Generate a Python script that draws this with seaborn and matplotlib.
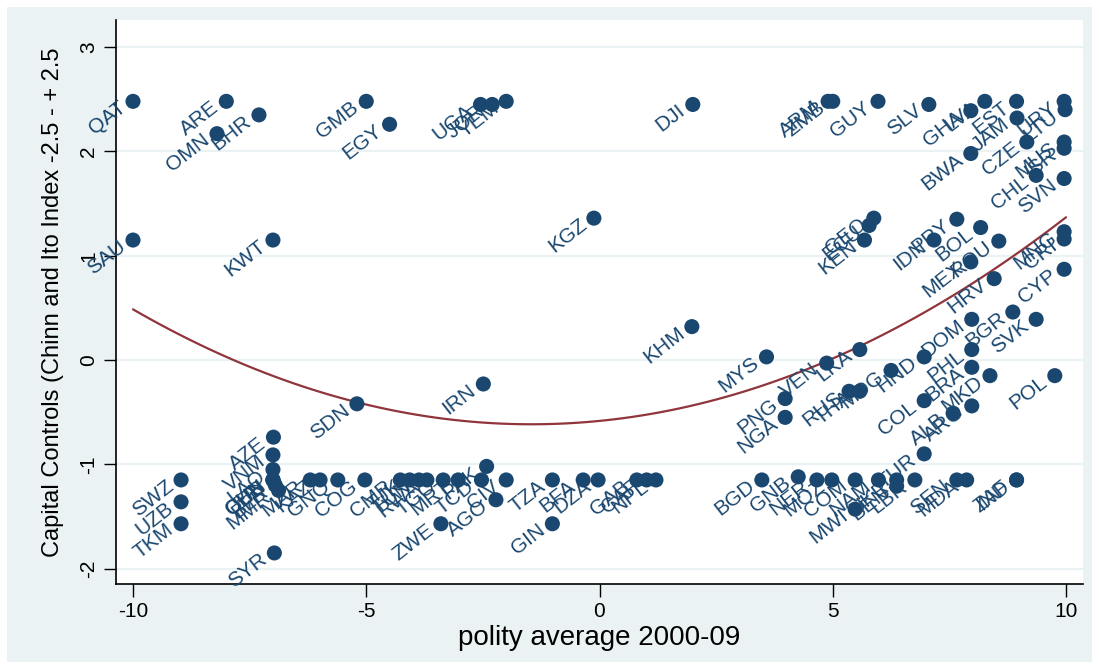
import numpy as np
import pandas as pd
import matplotlib
matplotlib.use("Agg")
import matplotlib.pyplot as plt
from matplotlib import font_manager
from matplotlib.patches import Rectangle
import seaborn as sns

# ---------------- data ----------------
codes = ["QAT", "ARE", "OMN", "BHR", "GMB", "EGY", "UGA", "JOR", "YEM", "DJI",
         "KGZ", "SAU", "KWT", "KHM", "IRN", "SDN", "ARM", "ZMB", "GUY", "SLV",
         "GHA", "LVA", "EST", "JAM", "URY", "LTU", "BWA", "CZE", "MUS", "ISR",
         "CHL", "SVN", "GEO", "ECU", "KEN", "PRY", "IDN", "BOL", "ROU", "MEX",
         "HRV", "MNG", "CRI", "CYP", "BGR", "SVK", "DOM", "PHL", "HND", "MDG",
         "LKA", "VEN", "MYS", "PNG", "NGA", "RUS", "THA", "BRA", "MKD", "COL",
         "ALB", "ARG", "POL", "TUR", "BGD", "GNB", "NER", "MOZ", "COM", "NAM",
         "MWI", "BEN", "UKR", "LBR", "SEN", "MDA", "IND", "ZAF",
         "SWZ", "UZB", "TKM", "SYR", "AZE", "VNM", "LAO", "CHN", "CUB", "ERI",
         "BLR", "MMR", "MAR", "KAZ", "GNQ", "COG", "CMR", "TJK", "TUN", "RWA",
         "TGO", "MRT", "TCD", "PAK", "CIV", "AGO", "ZWE", "TZA", "BFA", "DZA",
         "GIN", "GAB", "CAF", "NPL"]

polity = [-10.0, -8.0, -8.2, -7.3, -5.0, -4.5, -2.55, -2.3, -2.0, 2.0,
          -0.12, -10.0, -7.0, 1.98, -2.49, -5.2, 4.9, 5.0, 5.97, 7.06,
          7.96, 8.26, 8.94, 8.95, 9.96, 9.98, 7.96, 9.16, 9.96, 9.96,
          9.36, 9.96, 5.88, 5.78, 5.68, 7.66, 7.17, 8.17, 8.56, 7.96,
          8.46, 9.96, 9.96, 9.96, 8.86, 9.36, 7.98, 7.98, 6.96, 6.25,
          5.58, 4.87, 3.58, 3.98, 3.98, 5.35, 5.58, 7.98, 8.37, 6.96,
          7.58, 7.98, 9.76, 6.96, 3.48, 4.26, 4.66, 4.98, 5.48, 5.98,
          5.48, 6.37, 6.37, 6.76, 7.66, 7.87, 8.94, 8.94,
          -8.97, -8.97, -8.97, -6.97, -6.99, -7.0, -7.0, -7.0, -7.0, -7.0,
          -6.95, -6.88, -6.2, -5.99, -5.61, -5.03, -4.27, -4.07, -3.87, -3.70,
          -3.35, -3.03, -2.53, -2.42, -2.0, -2.22, -3.40, -1.01, -0.35, -0.03,
          -1.01, 0.80, 1.01, 1.21]

kaopen = [2.48, 2.48, 2.17, 2.35, 2.48, 2.26, 2.45, 2.45, 2.48, 2.45,
          1.36, 1.15, 1.15, 0.32, -0.23, -0.42, 2.48, 2.48, 2.48, 2.45,
          2.39, 2.48, 2.48, 2.32, 2.48, 2.40, 1.98, 2.09, 2.09, 2.03,
          1.77, 1.74, 1.36, 1.29, 1.15, 1.35, 1.15, 1.27, 1.14, 0.94,
          0.78, 1.23, 1.16, 0.87, 0.46, 0.39, 0.39, 0.10, 0.03, -0.10,
          0.10, -0.03, 0.03, -0.37, -0.55, -0.30, -0.30, -0.07, -0.15, -0.39,
          -0.51, -0.44, -0.15, -0.90, -1.15, -1.12, -1.15, -1.15, -1.15, -1.15,
          -1.43, -1.21, -1.15, -1.15, -1.15, -1.15, -1.15, -1.15,
          -1.15, -1.36, -1.57, -1.85, -0.74, -0.91, -1.05, -1.15, -1.15, -1.15,
          -1.20, -1.25, -1.15, -1.15, -1.15, -1.15, -1.15, -1.15, -1.15, -1.15,
          -1.15, -1.15, -1.15, -1.02, -1.15, -1.34, -1.57, -1.15, -1.15, -1.15,
          -1.57, -1.15, -1.15, -1.15]

# quadratic-fit curve (values at these x positions)
fit_x = [-10, -7.5, -5, -2.5, 0, 2.5, 5, 7.5, 10]
fit_y = [0.49, -0.07, -0.43, -0.60, -0.58, -0.38, 0.02, 0.59, 1.37]

x_ticks = [-10, -5, 0, 5, 10]
y_ticks = [-2, -1, 0, 1, 2, 3]
x_title = "polity average 2000-09"
y_title = "Capital Controls (Chinn and Ito Index -2.5 - + 2.5"

df = pd.DataFrame({"code": codes, "polity": polity, "kaopen": kaopen})
fit_df = pd.DataFrame({"x": fit_x, "y": fit_y})

# ---------------- style ----------------
sns.set_style("white")


def pick(fams):
    for f in fams:
        try:
            font_manager.findfont(f, fallback_to_default=False)
            return f
        except Exception:
            pass
    return "DejaVu Sans"


regular = pick(["Liberation Sans", "DejaVu Sans"])
plt.rcParams["font.family"] = [regular, "DejaVu Sans"]

navy = "#1a476f"
maroon = "#90353b"
bg = "#eaf2f3"

W, H = 1099, 669
fig = plt.figure(figsize=(W / 100, H / 100), dpi=100, facecolor="white")
fig.patches.append(Rectangle((7 / W, 7 / H), (1092 - 7) / W, (662 - 7) / H,
                             transform=fig.transFigure, facecolor=bg,
                             edgecolor="none", zorder=-10))

left, right, top, bottom = 116, 1083, 20, 584
ax = fig.add_axes([left / W, 1 - bottom / H, (right - left) / W, (bottom - top) / H])
ax.set_facecolor("white")

# fitted quadratic line
sns.regplot(data=fit_df, x="x", y="y", order=2, scatter=False, ci=None,
            truncate=True, color=maroon, line_kws={"lw": 1.6, "zorder": 3}, ax=ax)

# scatter
sns.scatterplot(data=df, x="polity", y="kaopen", color=navy, s=118,
                edgecolor="none", linewidth=0, ax=ax, zorder=4)

for c, xv, yv in zip(codes, polity, kaopen):
    ax.annotate(c, (xv, yv), xytext=(-7, -3), textcoords="offset points",
                rotation=38, rotation_mode="anchor", ha="right", va="center",
                fontsize=15, color=navy, zorder=5)

px_per_x = 46.65
px_per_y = 104.3
ax.set_xlim(-10 - 17 / px_per_x, 10 + 17 / px_per_x)
ax.set_ylim(-(bottom - 360) / px_per_y, (360 - top) / px_per_y)

ax.set_xticks(x_ticks)
ax.set_xticklabels([str(v) for v in x_ticks])
ax.set_yticks(y_ticks)
ax.set_yticklabels([str(v) for v in y_ticks], rotation=90, va="center")
ax.tick_params(axis="both", direction="out", length=9, width=1, color="black",
               labelsize=15, labelcolor="black", pad=4, left=True, bottom=True)

ax.grid(axis="y", color=bg, lw=1.6)
ax.grid(axis="x", visible=False)
ax.set_axisbelow(True)

for s in ["top", "right"]:
    ax.spines[s].set_visible(False)
for s in ["left", "bottom"]:
    ax.spines[s].set_color("black")
    ax.spines[s].set_linewidth(1.2)

ax.set_xlabel(x_title, fontsize=20, color="black", labelpad=3)
ax.set_ylabel(y_title, fontsize=17, color="black", labelpad=11)

fig.savefig("out.png", dpi=100, facecolor="white")
